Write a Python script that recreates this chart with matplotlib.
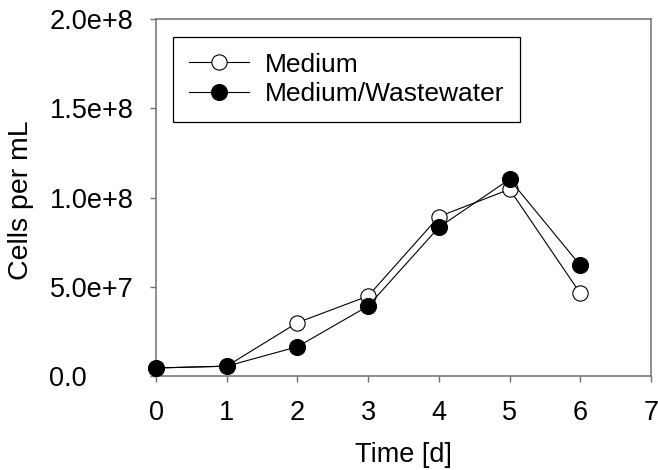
import matplotlib
matplotlib.use("Agg")
import matplotlib.pyplot as plt

days = [0, 1, 2, 3, 4, 5, 6]
medium = [4.5e6, 5.5e6, 2.99e7, 4.48e7, 8.93e7, 1.046e8, 4.63e7]
medium_ww = [4.5e6, 5.5e6, 1.64e7, 3.92e7, 8.33e7, 1.102e8, 6.2e7]
x_ticks = [0, 1, 2, 3, 4, 5, 6, 7]
y_ticks = [0, 5e7, 1e8, 1.5e8, 2e8]
y_tick_labels = ["0.0", "5.0e+7", "1.0e+8", "1.5e+8", "2.0e+8"]

plt.rcParams['font.family'] = ['Liberation Sans', 'DejaVu Sans']

fig = plt.figure(figsize=(6.58, 4.70), dpi=100)
ax = fig.add_axes([156/658, 1-376/470, 495/658, 357/470])

ax.plot(days, medium, color='black', lw=0.8, marker='o', markersize=11,
        markerfacecolor='white', markeredgecolor='black', markeredgewidth=0.8,
        label='Medium', clip_on=False, zorder=3)
ax.plot(days, medium_ww, color='black', lw=0.8, marker='o', markersize=11.5,
        markerfacecolor='black', markeredgecolor='black', markeredgewidth=0.8,
        label='Medium/Wastewater', clip_on=False, zorder=4)

ax.set_xlim(0, 7)
ax.set_ylim(0, 2e8)
ax.set_xticks(x_ticks)
ax.set_xticklabels([str(t) for t in x_ticks])
ax.set_yticks(y_ticks)
ax.set_yticklabels(y_tick_labels)

spine_color = '#707070'
for s in ax.spines.values():
    s.set_color(spine_color)
    s.set_linewidth(1.1)

ax.tick_params(axis='both', direction='out', length=4, width=1.0, color=spine_color,
               labelsize=19.5, labelcolor='black')
ax.tick_params(axis='x', pad=13.5)
ax.tick_params(axis='y', pad=72.7)
for lab in ax.get_yticklabels():
    lab.set_horizontalalignment('left')

ax.set_xlabel('Time [d]', fontsize=19.5, labelpad=11)
ax.set_ylabel('Cells per mL', fontsize=20.5)
ax.yaxis.set_label_coords(-0.2465, 0.493)

leg = ax.legend(loc='upper left', bbox_to_anchor=(0.0337, 0.950), borderaxespad=0,
                fontsize=19, frameon=True, fancybox=False, edgecolor='black',
                handlelength=2.3, handletextpad=0.6, labelspacing=0.22,
                borderpad=0.6, framealpha=1)
leg.get_frame().set_linewidth(0.9)

fig.savefig('out.png', dpi=100)
